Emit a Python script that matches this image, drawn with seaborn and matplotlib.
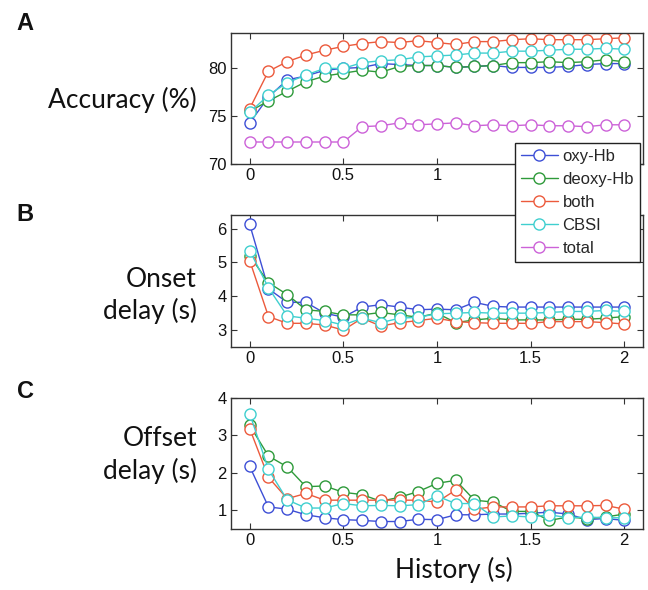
import matplotlib
matplotlib.use("Agg")
import matplotlib.pyplot as plt
import seaborn as sns
import pandas as pd

# ---------------- data ----------------
history = [0.0, 0.1, 0.2, 0.3, 0.4, 0.5, 0.6, 0.7, 0.8, 0.9, 1.0,
           1.1, 1.2, 1.3, 1.4, 1.5, 1.6, 1.7, 1.8, 1.9, 2.0]
signals = ["oxy-Hb", "deoxy-Hb", "both", "CBSI", "total"]

acc_oxy = [74.3, 77.0, 78.8, 79.2, 79.8, 80.0, 80.1, 80.5, 80.4, 80.3, 80.3,
           80.1, 80.2, 80.3, 80.1, 80.1, 80.1, 80.2, 80.4, 80.5, 80.5]
acc_deoxy = [75.5, 76.6, 77.6, 78.6, 79.2, 79.5, 79.8, 79.6, 80.2, 80.3, 80.3,
             80.1, 80.2, 80.3, 80.6, 80.6, 80.7, 80.6, 80.7, 80.9, 80.7]
acc_both = [75.8, 79.7, 80.7, 81.4, 81.9, 82.3, 82.6, 82.8, 82.7, 82.9, 82.7,
            82.5, 82.8, 82.8, 83.0, 83.1, 83.0, 83.0, 83.0, 83.1, 83.2]
acc_cbsi = [75.4, 77.2, 78.5, 79.3, 80.0, 80.0, 80.6, 80.8, 80.9, 81.2, 81.3,
            81.4, 81.6, 81.6, 81.8, 81.8, 81.9, 82.0, 82.0, 82.1, 82.0]
acc_total = [72.3, 72.3, 72.3, 72.3, 72.3, 72.3, 73.9, 74.0, 74.3, 74.1, 74.2,
             74.3, 74.0, 74.1, 74.0, 74.1, 74.0, 74.0, 73.9, 74.1, 74.1]

on_oxy = [6.12, 4.22, 3.82, 3.82, 3.50, 3.38, 3.68, 3.75, 3.68, 3.60, 3.62,
          3.60, 3.82, 3.70, 3.68, 3.68, 3.68, 3.68, 3.68, 3.68, 3.68]
on_deoxy = [5.20, 4.40, 4.05, 3.60, 3.55, 3.45, 3.45, 3.52, 3.45, 3.38, 3.50,
            3.22, 3.30, 3.35, 3.30, 3.30, 3.30, 3.32, 3.32, 3.35, 3.40]
on_both = [5.05, 3.40, 3.20, 3.20, 3.15, 3.00, 3.35, 3.12, 3.22, 3.28, 3.35,
           3.25, 3.22, 3.20, 3.20, 3.20, 3.25, 3.25, 3.25, 3.22, 3.18]
on_cbsi = [5.35, 4.25, 3.42, 3.35, 3.28, 3.15, 3.35, 3.22, 3.35, 3.38, 3.48,
           3.50, 3.52, 3.50, 3.50, 3.50, 3.52, 3.55, 3.55, 3.58, 3.55]

off_oxy = [2.17, 1.09, 1.03, 0.88, 0.80, 0.75, 0.73, 0.70, 0.70, 0.76, 0.75,
           0.88, 0.88, 0.90, 0.90, 0.92, 0.95, 0.90, 0.75, 0.78, 0.73]
off_deoxy = [3.27, 2.45, 2.16, 1.63, 1.65, 1.48, 1.42, 1.24, 1.35, 1.50, 1.72,
             1.80, 1.27, 1.22, 0.97, 0.97, 0.73, 0.82, 0.78, 0.82, 0.90]
off_both = [3.18, 1.88, 1.31, 1.45, 1.27, 1.27, 1.27, 1.27, 1.27, 1.27, 1.22,
            1.54, 1.03, 1.09, 1.09, 1.09, 1.12, 1.12, 1.12, 1.13, 1.03]
off_cbsi = [3.58, 2.09, 1.28, 1.06, 1.06, 1.18, 1.12, 1.13, 1.12, 1.15, 1.38,
            1.18, 1.18, 0.82, 0.85, 0.82, 0.88, 0.80, 0.82, 0.80, 0.80]

xtick_vals = [0, 0.5, 1, 1.5, 2]
xtick_labels = ["0", "0.5", "1", "1.5", "2"]

colors = {"oxy-Hb": "#3d4fd6", "deoxy-Hb": "#2e9a3a", "both": "#ec5a3c",
          "CBSI": "#3fcfcf", "total": "#cc62d8"}

panels = [
    ("A", "Accuracy (%)", {"oxy-Hb": acc_oxy, "deoxy-Hb": acc_deoxy, "both": acc_both,
                           "CBSI": acc_cbsi, "total": acc_total},
     (70, 83.7), [70, 75, 80]),
    ("B", "Onset\ndelay (s)", {"oxy-Hb": on_oxy, "deoxy-Hb": on_deoxy, "both": on_both,
                               "CBSI": on_cbsi},
     (2.5, 6.4), [3, 4, 5, 6]),
    ("C", "Offset\ndelay (s)", {"oxy-Hb": off_oxy, "deoxy-Hb": off_deoxy, "both": off_both,
                                "CBSI": off_cbsi},
     (0.5, 4.0), [1, 2, 3, 4]),
]

# ---------------- style ----------------
sns.set_style("ticks")
plt.rcParams["font.family"] = ["Liberation Sans", "DejaVu Sans"]

W, H = 648, 590
fig = plt.figure(figsize=(W / 100, H / 100), dpi=100)

boxes = [(231, 33, 643, 164), (231, 215, 643, 347), (231, 398, 643, 529)]
label_y = [100, 295.5, 455]
letter_y = [23, 214, 392]
axcol = "#333333"
label_font = ["Lato", "DejaVu Sans"]

axes = []
for i, ((letter, ylab, series, ylim, yticks), (l, t, r, b), ly, lty) in enumerate(
        zip(panels, boxes, label_y, letter_y)):
    ax = fig.add_axes([l / W, 1 - b / H, (r - l) / W, (b - t) / H])
    rows = []
    for name in signals:
        if name in series:
            for h, v in zip(history, series[name]):
                rows.append({"history": h, "value": v, "signal": name})
    df = pd.DataFrame(rows)
    for name in signals:
        if name not in series:
            continue
        c = colors[name]
        sns.lineplot(data=df[df["signal"] == name], x="history", y="value", ax=ax,
                     color=c, marker="o", markersize=8, markerfacecolor="white",
                     markeredgecolor=c, markeredgewidth=1.0, linewidth=1.0,
                     label=name, legend=False)
    ax.set_xlim(-0.1, 2.1)
    ax.set_ylim(*ylim)
    ax.set_xticks(xtick_vals)
    if i == 0:
        # the last two labels of panel A sit behind the legend box
        ax.set_xticklabels(xtick_labels[:3] + ["", ""])
    else:
        ax.set_xticklabels(xtick_labels)
    ax.set_yticks(yticks)
    ax.set_xlabel("")
    ax.set_ylabel("")
    ax.tick_params(direction="in", top=True, right=True, length=4, width=0.8,
                   color=axcol, labelsize=12, labelcolor="#111111", pad=3)
    for s in ax.spines.values():
        s.set_visible(True)
        s.set_color(axcol)
        s.set_linewidth(1.0)
    fig.text(197 / W, 1 - ly / H, ylab, ha="right", va="center", multialignment="right",
             fontsize=19, family=label_font, linespacing=1.3, color="#111111")
    fig.text(25 / W, 1 - lty / H, letter, ha="center", va="center", fontsize=17,
             fontweight="bold", color="#111111")
    axes.append(ax)

fig.text(454 / W, 1 - 570 / H, "History (s)", ha="center", va="center",
         fontsize=19, family=label_font, color="#111111")

handles = axes[0].get_lines()
leg = fig.legend(handles, signals, loc="upper left",
                 bbox_to_anchor=(515 / W, 1 - 143 / H), borderaxespad=0,
                 fontsize=12, frameon=True, fancybox=False, framealpha=1,
                 edgecolor="#222222", handlelength=2.2, handletextpad=0.3,
                 labelspacing=0.48, borderpad=0.35)
leg.get_frame().set_linewidth(1.0)

fig.savefig("out.png", dpi=100)
